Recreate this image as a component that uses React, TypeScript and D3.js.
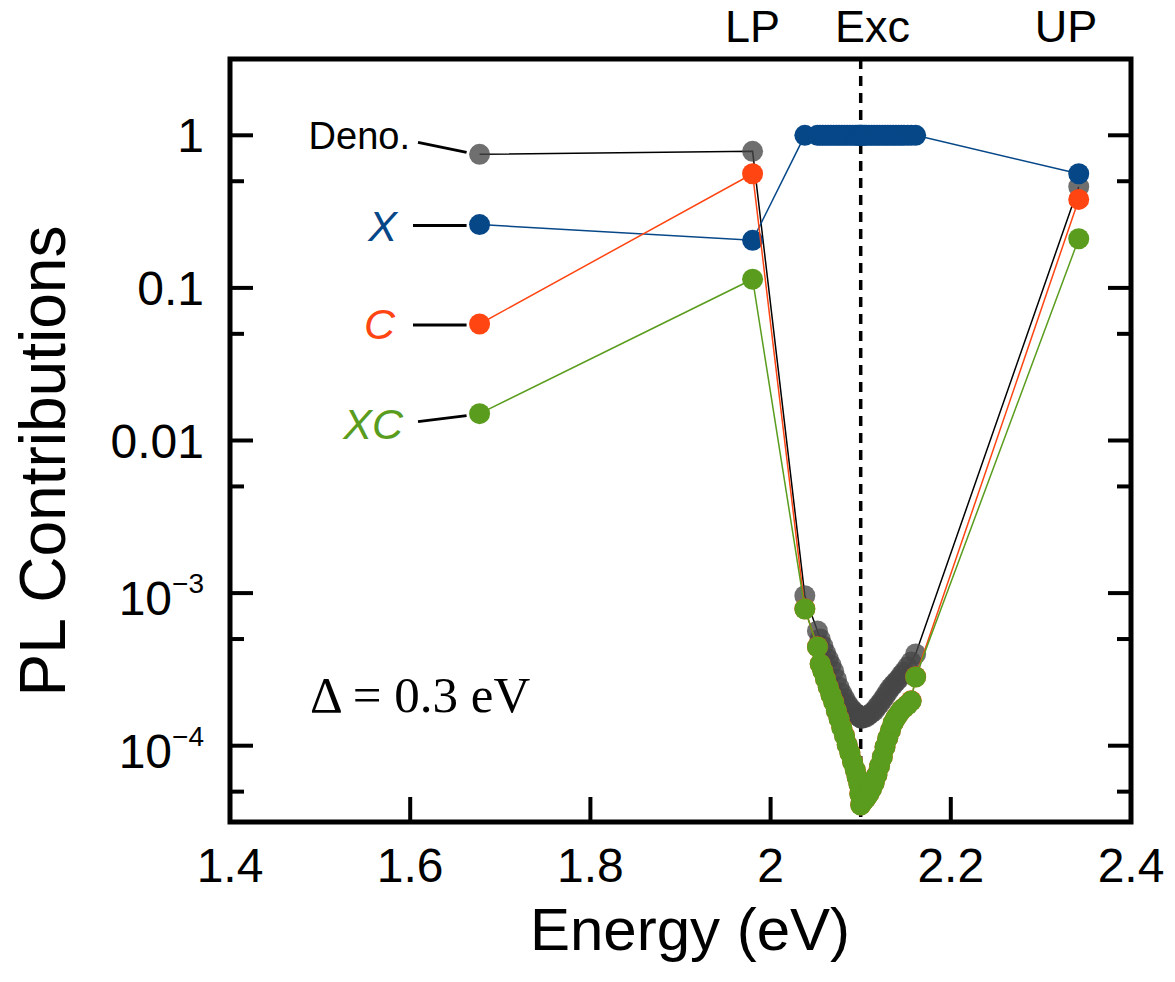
import React from 'react';
import * as d3 from 'd3';

// energies (eV): LP-side point, LP, dense scan around the exciton, UP
const energy = [1.677, 1.98,
  2.038, 2.052, 2.055, 2.058, 2.061, 2.064, 2.067, 2.070, 2.073, 2.076, 2.079, 2.082, 2.085, 2.088,
  2.091, 2.094, 2.096, 2.098, 2.099, 2.100, 2.101, 2.102, 2.104, 2.106, 2.109, 2.112, 2.115, 2.118,
  2.121, 2.124, 2.127, 2.130, 2.133, 2.136, 2.139, 2.142, 2.145, 2.148, 2.152, 2.156, 2.161,
  2.342];

const deno = [0.75, 0.785,
  9.62e-4, 5.65e-4, 5.0e-4, 4.5e-4, 4.05e-4, 3.7e-4, 3.38e-4, 3.08e-4, 2.73e-4, 2.42e-4, 2.21e-4, 2.05e-4, 1.9e-4, 1.79e-4,
  1.71e-4, 1.64e-4, 1.59e-4, 1.56e-4, 1.54e-4, 1.52e-4, 1.52e-4, 1.52e-4, 1.54e-4, 1.54e-4, 1.59e-4, 1.64e-4, 1.69e-4, 1.79e-4,
  1.88e-4, 1.99e-4, 2.11e-4, 2.25e-4, 2.39e-4, 2.5e-4, 2.62e-4, 2.73e-4, 2.9e-4, 3.04e-4, 3.28e-4, 3.54e-4, 3.99e-4,
  0.46];

const xPart = [0.26, 0.205,
  1, 1, 1, 1, 1, 1, 1, 1, 1, 1, 1, 1, 1, 1,
  1, 1, 1, 1, 1, 1, 1, 1, 1, 1, 1, 1, 1, 1,
  1, 1, 1, 1, 1, 1, 1, 1, 1, 1, 1, 1, 1,
  0.56];

const cPart = [0.058, 0.56,
  7.9e-4, 4.45e-4, 3.44e-4, 3.09e-4, 2.74e-4, 2.43e-4, 2.16e-4, 1.94e-4, 1.7e-4, 1.51e-4, 1.32e-4, 1.17e-4, 1.02e-4, 9.0e-5,
  7.85e-5, 6.95e-5, 6.26e-5, 5.63e-5, 4.84e-5, 4.1e-5, 4.22e-5, 4.35e-5, 4.42e-5, 4.55e-5, 4.84e-5, 5.22e-5, 5.71e-5, 6.45e-5,
  7.38e-5, 8.45e-5, 9.82e-5, 1.12e-4, 1.26e-4, 1.41e-4, 1.52e-4, 1.61e-4, 1.71e-4, 1.77e-4, 1.86e-4, 1.97e-4, 2.83e-4,
  0.38];

const xcPart = [0.015, 0.114,
  7.87e-4, 4.44e-4, 3.43e-4, 3.08e-4, 2.73e-4, 2.42e-4, 2.15e-4, 1.93e-4, 1.69e-4, 1.5e-4, 1.31e-4, 1.16e-4, 1.01e-4, 8.96e-5,
  7.82e-5, 6.93e-5, 6.24e-5, 5.61e-5, 4.82e-5, 4.09e-5, 4.21e-5, 4.34e-5, 4.41e-5, 4.54e-5, 4.82e-5, 5.2e-5, 5.69e-5, 6.43e-5,
  7.36e-5, 8.43e-5, 9.8e-5, 1.12e-4, 1.26e-4, 1.41e-4, 1.52e-4, 1.61e-4, 1.71e-4, 1.77e-4, 1.85e-4, 1.96e-4, 2.82e-4,
  0.21];

const seriesNames = ['Deno.', 'X', 'C', 'XC'];
const seriesValues = [deno, xPart, cPart, xcPart];
const markerColors = ['#474747', '#064788', '#ff4512', '#5a9c1d'];
const lineColors = ['#000000', '#064788', '#ff4512', '#5a9c1d'];
const labelColors = ['#000000', '#064788', '#ff4512', '#5a9c1d'];

const xTicks = [1.4, 1.6, 1.8, 2, 2.2, 2.4];
const yMajor = [1, 0.1, 0.01, 1e-3, 1e-4];
const yMinor = [0.5, 0.05, 5e-3, 5e-4, 5e-5];
const topNames = ['LP', 'Exc', 'UP'];
const topEnergy = [1.98, 2.113, 2.328];
const excitonEnergy = 2.1;

const W = 1175, H = 982;
const L = 230, R = 1131, T = 59, B = 822;
const sans = '"Liberation Sans", Arial, Helvetica, sans-serif';

export default function App() {
  const x = d3.scaleLinear().domain([1.4, 2.4]).range([L, R]);
  const y = d3.scaleLog().domain([Math.pow(10, -4.5), Math.pow(10, 0.5)]).range([B, T]);

  const line = d3.line<[number, number]>().x(d => x(d[0])).y(d => y(d[1]));

  const yLabel = (v: number) => {
    if (v >= 0.01) return <tspan>{d3.format('~g')(v)}</tspan>;
    const e = Math.round(Math.log10(v));
    return (<>
      <tspan>10</tspan>
      <tspan fontSize={28} dy={-22}>{'\u2212' + Math.abs(e)}</tspan>
    </>);
  };

  // label placement relative to each series' first point
  const labelDy = [-5, 16, 15, 25];
  const labelX = [410, 397, 395, 403];
  const leadStart = [[418, -12], [413, 1], [413, 1], [418, 8]];
  const leadEndDy = [-2, 1, 1, 2];

  return (
    <svg width={W} height={H} style={{ position: 'absolute', left: 0, top: 0, display: 'block' }}
      fontFamily={sans}>
      <rect x={0} y={0} width={W} height={H} fill="#fff" />

      {/* exciton energy marker */}
      <line x1={x(excitonEnergy)} x2={x(excitonEnergy)} y1={T} y2={B}
        stroke="#000" strokeWidth={3.5} strokeDasharray="10,7" />

      {seriesValues.map((vals, si) => {
        const pts = energy.map((e, i) => [e, vals[i]] as [number, number]);
        return (
          <g key={si}>
            <path d={line(pts) || ''} fill="none" stroke={lineColors[si]} strokeWidth={1.5} />
            {pts.map((p, i) => (
              <circle key={i} cx={x(p[0])} cy={y(p[1])} r={10.5}
                fill={markerColors[si]} fillOpacity={si === 0 ? 0.78 : 1} />
            ))}
          </g>
        );
      })}

      {/* series labels with leader lines */}
      {seriesNames.map((n, si) => {
        const px = x(energy[0]);
        const py = y(seriesValues[si][0]);
        return (
          <g key={n}>
            <line x1={leadStart[si][0]} y1={py + leadStart[si][1]} x2={px - 13} y2={py + leadEndDy[si]}
              stroke="#000" strokeWidth={3} />
            <text x={labelX[si]} y={py + labelDy[si]} textAnchor="end"
              fontSize={si === 0 ? 38 : 43} fontStyle={si === 0 ? 'normal' : 'italic'}
              fill={labelColors[si]}>{n}</text>
          </g>
        );
      })}

      {/* frame */}
      <rect x={L} y={T} width={R - L} height={B - T} fill="none" stroke="#000" strokeWidth={5} />

      {/* x ticks */}
      {xTicks.map(t => (
        <g key={t}>
          <line x1={x(t)} x2={x(t)} y1={B} y2={B - 25} stroke="#000" strokeWidth={4} />
          <text x={x(t)} y={882} textAnchor="middle" fontSize={48}>{d3.format('~g')(t)}</text>
        </g>
      ))}

      {/* y ticks, left and right */}
      {yMajor.map(t => (
        <g key={t}>
          <line x1={L} x2={L + 23} y1={y(t)} y2={y(t)} stroke="#000" strokeWidth={4} />
          <line x1={R} x2={R - 23} y1={y(t)} y2={y(t)} stroke="#000" strokeWidth={4} />
          <text x={204} y={y(t) + (t >= 0.01 ? 17 : 22)} textAnchor="end" fontSize={48}>{yLabel(t)}</text>
        </g>
      ))}
      {yMinor.map(t => (
        <g key={t}>
          <line x1={L} x2={L + 14} y1={y(t)} y2={y(t)} stroke="#000" strokeWidth={4} />
          <line x1={R} x2={R - 14} y1={y(t)} y2={y(t)} stroke="#000" strokeWidth={4} />
        </g>
      ))}

      {/* top labels */}
      {topNames.map((n, i) => (
        <text key={n} x={x(topEnergy[i])} y={42} textAnchor="middle" fontSize={45}>{n}</text>
      ))}

      <text x={310} y={712} fontSize={51} fontFamily='"Liberation Serif", "Times New Roman", serif'>
        {'\u0394 = 0.3 eV'}
      </text>

      <text x={690} y={950} textAnchor="middle" fontSize={60}>Energy (eV)</text>
      <text transform={`translate(65, 461) rotate(-90)`} textAnchor="middle" fontSize={64}>
        PL Contributions
      </text>
    </svg>
  );
}
